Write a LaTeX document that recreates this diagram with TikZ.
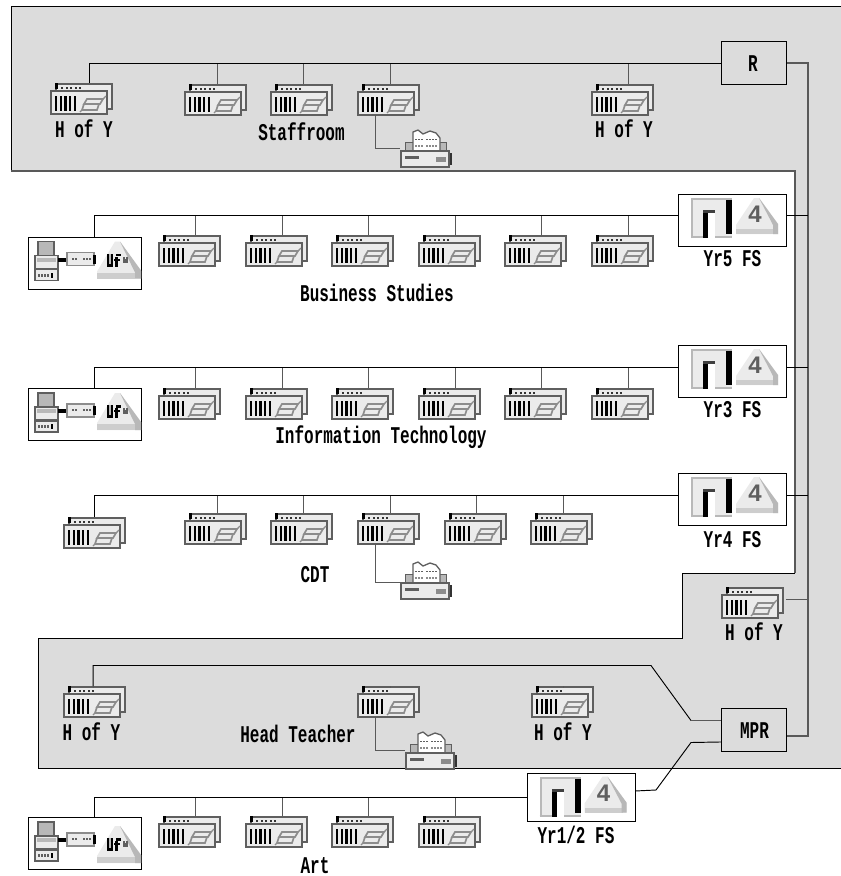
\documentclass[tikz,border=0pt]{standalone}
\usepackage{graphicx}
\usepackage{fontspec}
\setmainfont{Liberation Mono}
\newfontfamily\fourfont{Liberation Sans}
\definecolor{bggray}{HTML}{DCDCDC}
\definecolor{icondark}{HTML}{5F5F5F}
\definecolor{iconmid}{HTML}{8C8C8C}
\definecolor{iconsoft}{HTML}{B8B8B8}
\definecolor{iconlight}{HTML}{EBEBEB}
\tikzset{
  wire/.style={draw=black,line width=0.95pt},
  wirel/.style={draw=black!65,line width=1.1pt},
  wsbox/.style={anchor=north west,inner sep=0pt,minimum width=63pt,minimum height=31pt},
  fsbox/.style={anchor=north west,draw=black,line width=0.95pt,fill=white,inner sep=0pt,minimum width=108pt,minimum height=52pt},
  termbox/.style={anchor=north west,draw=black,line width=0.95pt,fill=white,inner sep=0pt,minimum width=113pt,minimum height=52pt},
  ctrlbox/.style={anchor=north west,draw=black,line width=0.95pt,inner sep=0pt,minimum width=65pt,minimum height=43pt},
  prbox/.style={anchor=north west,inner sep=0pt,minimum width=52pt,minimum height=37pt},
  labelnode/.style={anchor=base,inner sep=0pt,font=\fontsize{16}{18}\selectfont\bfseries},
  wsicon/.pic={
    \draw[icondark,line width=2.2pt,fill=iconlight] (6,1)--(62,1)--(62,26)--(6,26)--cycle;
    \fill[black] (4.5,0) rectangle (7.5,6);
    \foreach \q in {11,15.5,20,24.5,29}{\fill[black!80] (\q,4) rectangle ++(2.4,2.4);}
    \draw[icondark,line width=2.2pt,fill=iconlight] (1,8)--(57,8)--(57,31)--(1,31)--cycle;
    \foreach \q in {5,9.7,14.4,19.1,23.8}{\fill[black] (\q,12.5) rectangle ++(2.3,15);}
    \draw[iconmid,line width=1.7pt] (37,16)--(53,16)--(50,21)--(34,21)--cycle (34,21)--(49,21)--(47,27)--(32,27)--cycle;
    \draw[iconmid,line width=1.2pt] (53,16)--(56,13) (32,27)--(30,29);
  },
  fsicon/.pic={
    \fill[iconlight] (13,4) rectangle (54,44);
    \draw[iconsoft,line width=2pt] (14,44)--(14,5)--(54,5);
    \draw[iconsoft,line width=2pt] (13,43)--(25,43) (37,43)--(54,43);
    \fill[white] (30,19) rectangle (37,44);
    \fill[black!75] (25,16) rectangle (37,19);
    \fill[black] (25,19) rectangle (30,44);
    \fill[black] (48,6) rectangle (54,40);
    \fill[iconlight] (58,31)--(76,4)--(81,4)--(100,30)--(100,40)--(58,40)--cycle;
    \fill[iconsoft!70] (58,35)--(96,35)--(96,40)--(58,40)--cycle;
    \fill[iconsoft] (81,4)--(84,8)--(100,30)--(100,40)--(95,40)--(95,31)--cycle;
    \node[inner sep=0pt,text=icondark,font={\fontsize{24}{24}\fourfont\bfseries}] (four) at (77,20.5) {4};
  },
  termicon/.pic={
    \draw[icondark,line width=1.8pt,fill=iconsoft] (10,5) rectangle (26,19);
    \draw[icondark,line width=1.8pt,fill=iconlight] (7,19) rectangle (30,32);
    \fill[iconsoft] (9,21) rectangle (28,25);
    \fill[black] (30,21) rectangle (39,25);
    \draw[icondark,line width=1.8pt,fill=iconlight] (7,33) rectangle (30,44);
    \foreach \q in {10,13,16,19}{\fill[icondark] (\q,37) rectangle ++(2,3);}
    \fill[black] (23,36) rectangle ++(2,5);
    \draw[iconmid,line width=1.6pt,fill=iconlight] (39,16) rectangle (66,29);
    \foreach \q in {44,47,55,58,61}{\fill[icondark] (\q,21) rectangle ++(1.8,2);}
    \fill[black] (65,18) rectangle (68,27);
  },
  tricon/.pic={
    \fill[iconlight] (69,30)--(87,0)--(92,0)--(113,29)--(113,37)--(69,37)--cycle;
    \fill[iconsoft!70] (69,31)--(107,31)--(107,37)--(69,37)--cycle;
    \fill[iconsoft] (92,0)--(113,29)--(113,37)--(107,37)--(107,31)--cycle;
    \fill[black] (79,12) rectangle (85,25);
    \fill[iconsoft] (81,12) rectangle (83,22);
    \fill[black] (87,15) rectangle (90,25);
    \fill[black] (88,12) rectangle (93,14.5);
    \fill[black] (85.5,17) rectangle (92,19);
    \fill[icondark] (95,15) rectangle ++(5,6);
    \fill[iconlight] (96.5,15) rectangle ++(1.5,2);
  },
  pricon/.pic={
    \fill[iconsoft] (5,12) rectangle (46,21);
    \draw[icondark,line width=1pt] (5,21)--(5,12)--(13,12) (40,12)--(46,12)--(46,21);
    \draw[icondark,line width=1.3pt,fill=white] (13,22)--(13,2)--(18,0)--(23,4)--(30,1)--(36,3)--(40,8)--(40,22)--cycle;
    \foreach \q in {15,18,21,26,29,32,35}{\fill[icondark] (\q,9) rectangle ++(2,1.4);\fill[iconmid] (\q,15) rectangle ++(2,1.6);}
    \draw[icondark,line width=2.2pt,fill=iconlight] (1,21) rectangle (49,37);
    \fill[icondark] (5,26) rectangle (19,29);
    \fill[iconmid] (36,27) rectangle (46,32);
    \fill[black!80] (50,23) rectangle (52,35);
  }
}
% #1 name, #2 x, #3 y, #4 vertical offset from the node's north, #5 node or coordinate giving the bus height
\newcommand{\wsn}[5]{%
  \node[wsbox] (#1) at (#2,#3) {};
  \pic at (#2,#3) {wsicon};
  \draw[wirel] ([xshift=#4pt]#1.north) -- ([xshift=#4pt]#1.north |- #5);
}
\newcommand{\lab}[4]{\node[labelnode] (#1) at (#2,#3) {\scalebox{1}[1.5]{#4}};}
\newcommand{\fsn}[4]{%
  \node[fsbox] (#1) at (#2,#3) {};
  \pic at (#2,#3) {fsicon};
  \coordinate (#1w) at ([yshift=#4pt]#1.west);
  \coordinate (#1e) at ([yshift=#4pt]#1.east);
}
% #4 top of the triangle, relative to the box top
\newcommand{\termn}[4]{%
  \node[termbox] (#1) at (#2,#3) {};
  \pic at (#2,#3) {termicon};
  \pic[yshift=-#4pt] at (#2,#3) {tricon};
}
\newcommand{\prn}[3]{%
  \node[prbox] (#1) at (#2,#3) {};
  \pic at (#2,#3) {pricon};
}
\begin{document}
\begin{tikzpicture}[x=1pt,y=-1pt]
\useasboundingbox (0,0) rectangle (841,876);
\fill[white] (0,0) rectangle (841,876);
\fill[bggray] (841,6)--(11,6)--(11,171)--(795,171)--(795,573)--(682,573)--(682,638.5)--(38,638.5)--(38,768)--(841,768)--cycle;
\draw[black,line width=0.95pt] (841,6)--(11,6)--(11,171);
\draw[black!65,line width=1.1pt] (11,171)--(795,171)--(795,573);
\draw[black,line width=0.95pt] (795,573)--(682,573)--(682,638.5)--(38,638.5)--(38,768)--(841,768);

% controllers
\node[ctrlbox] (R) at (721,41) {};
\node[ctrlbox] (MPR) at (721,707.5) {};
\fsn{Y5}{678}{194}{5}
\fsn{Y3}{678}{345}{4}
\fsn{Y4}{678}{473}{4}
\node[fsbox,minimum height=48pt] (Y12) at (526.5,772.5) {};
\pic at (526.5,772.5) {fsicon};
\coordinate (Y12w) at (Y12.west);
\coordinate (Y12e) at ([yshift=6pt]Y12.east);
\coordinate (Mbus) at ([yshift=20pt]MPR.north);

% terminals
\termn{T5}{28}{236.5}{5}
\termn{T3}{28}{388}{5}
\termn{TA}{28}{817}{9}

% top area
\wsn{A1}{50}{83}{7.5}{R.west}
\wsn{A2}{184}{84}{1.5}{R.west}
\wsn{A3}{270}{84}{1.5}{R.west}
\wsn{A4}{357}{84}{1.5}{R.west}
\wsn{A5}{591}{84}{5.5}{R.west}
\draw[wire] (R.west) -| ([xshift=7.5pt]A1.north);
\prn{PA}{400}{130}
\draw[wirel] ([xshift=-13pt]A4.south) |- (PA.west);

% rows
\wsn{B1}{158}{235}{5.5}{Y5w}
\wsn{B2}{245}{235}{5.5}{Y5w}
\wsn{B3}{331}{235}{5.5}{Y5w}
\wsn{B4}{418}{235}{5.5}{Y5w}
\wsn{B5}{504}{235}{5.5}{Y5w}
\wsn{B6}{591}{235}{5.5}{Y5w}
\draw[wire] (Y5w) -| (T5.north -| 94,0);

\wsn{C1}{158}{388}{5.5}{Y3w}
\wsn{C2}{245}{388}{5.5}{Y3w}
\wsn{C3}{331}{388}{5.5}{Y3w}
\wsn{C4}{418}{388}{5.5}{Y3w}
\wsn{C5}{504}{388}{5.5}{Y3w}
\wsn{C6}{591}{388}{5.5}{Y3w}
\draw[wire] (Y3w) -| (T3.north -| 94,0);

\wsn{D1}{63}{517}{-0.5}{Y4w}
\wsn{D2}{184}{513}{1.5}{Y4w}
\wsn{D3}{270}{513}{1.5}{Y4w}
\wsn{D4}{357}{513}{1.5}{Y4w}
\wsn{D5}{444}{513}{1}{Y4w}
\wsn{D6}{530}{513}{1.5}{Y4w}
\draw[wire] (Y4w) -| ([xshift=-0.5pt]D1.north);
\prn{PD}{400}{562}
\draw[wirel] ([xshift=-13pt]D4.south) |- ([yshift=-1.5pt]PD.west);

% lone H of Y
\node[wsbox] (H0) at (721,587) {};
\pic at (721,587) {wsicon};
\coordinate (Tr) at ([xshift=21pt]Y4.east);
\coordinate (H0e) at ([xshift=2pt,yshift=3.5pt]H0.east);
\draw[wirel] (H0e) -- (H0e -| Tr);

% bottom area
\wsn{E1}{63}{686}{-1.5}{Mbus}
\wsn{E2}{357}{686}{1.5}{Mbus}
\wsn{E3}{531}{686}{0.5}{Mbus}
\coordinate (Mk1) at (651,665.5);
\coordinate (Mk2) at (691,720.5);
\draw[wire] ([xshift=-1.5pt]E1.north) |- (Mk1) -- (Mk2);
\draw[wirel] (Mk2) -- (Mk2 -| MPR.west);
\prn{PE}{405}{732}
\draw[wirel] ([xshift=-13pt]E2.south) |- (PE.west);

% art row
\wsn{F1}{158}{816}{5.5}{Y12w}
\wsn{F2}{245}{816}{5.5}{Y12w}
\wsn{F3}{331}{816}{5.5}{Y12w}
\wsn{F4}{418}{816}{5.5}{Y12w}
\draw[wire] (Y12w) -| (TA.north -| 94,0);

% trunk
\draw[wirel] (R.east) -| (Tr) |- ([yshift=-6.5pt]MPR.east);
\foreach \q in {Y5,Y3,Y4}{\draw[wire] (\q e) -- (\q e -| Tr);}
\coordinate (Yk1) at (656,790);
\coordinate (Yk2) at (691,742.5);
\draw[wire] (Y12e) -- (Yk1) -- (Yk2);
\draw[wire] (Yk2) -- ([yshift=-12.5pt]MPR.west);

% labels
\lab{Lr}{753}{71.5}{R}
\lab{Lm}{754.5}{738}{MPR}
\lab{L1}{84}{137.5}{H of Y}
\lab{L2}{301.5}{140}{Staffroom}
\lab{L3}{624}{137.5}{H of Y}
\lab{L4}{732.5}{266}{Yr5 FS}
\lab{L5}{377}{301}{Business Studies}
\lab{L6}{732.5}{417}{Yr3 FS}
\lab{L7}{381}{443.5}{Information Technology}
\lab{L8}{732.5}{547}{Yr4 FS}
\lab{L9}{315}{582}{CDT}
\lab{L10}{754}{640}{H of Y}
\lab{L11}{91.5}{740}{H of Y}
\lab{L12}{298}{742}{Head Teacher}
\lab{L13}{563}{740}{H of Y}
\lab{L14}{576}{843}{Yr1/2 FS}
\lab{L15}{315}{873.5}{Art}
\end{tikzpicture}
\end{document}
